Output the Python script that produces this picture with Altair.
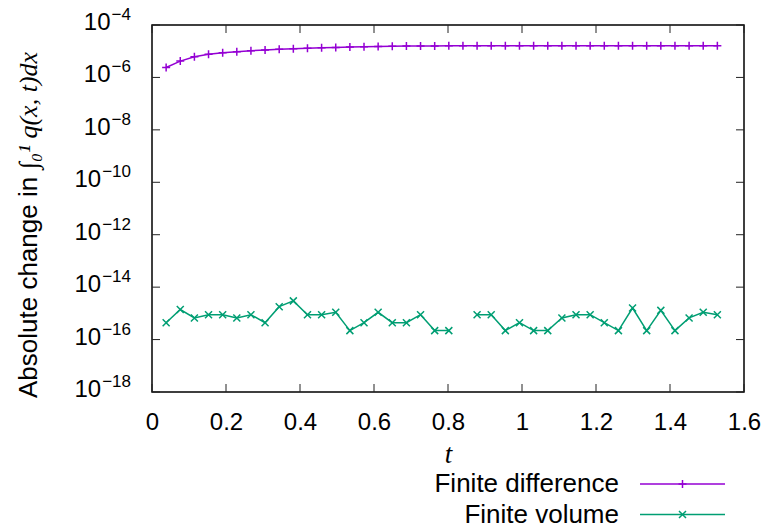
import altair as alt
import pandas as pd

# sample times shared by both schemes
t_values = [0.0382, 0.0764, 0.1146, 0.1528, 0.1910, 0.2292, 0.2674, 0.3056, 0.3438, 0.3820,
            0.4202, 0.4584, 0.4966, 0.5348, 0.5730, 0.6112, 0.6494, 0.6876, 0.7258, 0.7640,
            0.8022, 0.8404, 0.8786, 0.9168, 0.9550, 0.9932, 1.0314, 1.0696, 1.1078, 1.1460,
            1.1842, 1.2224, 1.2606, 1.2988, 1.3370, 1.3752, 1.4134, 1.4516, 1.4898, 1.5280]

# absolute change of the integral of q, finite difference scheme
fd_change = [2.4e-6, 4.2e-6, 6.1e-6, 7.6e-6, 8.7e-6, 9.5e-6, 1.04e-5, 1.11e-5, 1.18e-5, 1.24e-5,
             1.30e-5, 1.35e-5, 1.40e-5, 1.44e-5, 1.48e-5, 1.52e-5, 1.55e-5, 1.57e-5, 1.58e-5, 1.59e-5,
             1.60e-5, 1.60e-5, 1.61e-5, 1.61e-5, 1.61e-5, 1.61e-5, 1.62e-5, 1.62e-5, 1.62e-5, 1.62e-5,
             1.62e-5, 1.62e-5, 1.62e-5, 1.62e-5, 1.62e-5, 1.62e-5, 1.62e-5, 1.62e-5, 1.62e-5, 1.62e-5]

# same quantity, finite volume scheme (None: exactly zero, not shown on a log axis)
fv_change = [4.4e-16, 1.4e-15, 6.7e-16, 8.9e-16, 8.9e-16, 6.7e-16, 8.9e-16, 4.4e-16, 1.8e-15, 3.0e-15,
             8.9e-16, 8.9e-16, 1.1e-15, 2.2e-16, 4.4e-16, 1.1e-15, 4.4e-16, 4.4e-16, 8.9e-16, 2.2e-16,
             2.2e-16, None, 8.9e-16, 8.9e-16, 2.2e-16, 4.4e-16, 2.2e-16, 2.2e-16, 6.7e-16, 8.9e-16,
             8.9e-16, 4.4e-16, 2.2e-16, 1.6e-15, 2.2e-16, 1.3e-15, 2.2e-16, 6.7e-16, 1.1e-15, 8.9e-16]

x_ticks = [0, 0.2, 0.4, 0.6, 0.8, 1.0, 1.2, 1.4, 1.6]
y_exponents = [-4, -6, -8, -10, -12, -14, -16, -18]
series = ["Finite difference", "Finite volume"]
colors = ["#9400d3", "#009e73"]

W, H = 592, 367
FONT = "Liberation Sans"
MATH = "Liberation Serif"
PLUS = "M-1,0L1,0M0,-1L0,1"
CROSS = "M-1,-1L1,1M-1,1L1,-1"

fd = pd.DataFrame({"t": t_values, "v": fd_change})
fv = pd.DataFrame({"t": t_values, "v": fv_change})
fv["seg"] = fv["v"].isna().cumsum()
fv = fv.dropna()

x_scale = alt.Scale(domain=[0, 1.6], nice=False, zero=False)
y_scale = alt.Scale(type="log", domain=[1e-18, 1e-4], nice=False)

x_axis = alt.Axis(values=x_ticks, format="~g", ticks=False, domain=False, grid=False,
                  labelFont=FONT, labelFontSize=24, labelColor="black", labelPadding=18,
                  labelFlush=False, title="t", titleFont=MATH, titleFontStyle="italic",
                  titleFontSize=27, titleFontWeight="normal", titleColor="black",
                  titlePadding=7)

X = alt.X("t:Q", scale=x_scale, axis=x_axis)
Y = alt.Y("v:Q", scale=y_scale, axis=None)

fd_line = alt.Chart(fd).mark_line(color=colors[0], strokeWidth=1.5).encode(x=X, y=Y)
fd_pts = alt.Chart(fd).mark_point(shape=PLUS, size=64, filled=False, strokeWidth=1.5,
                                  color=colors[0], opacity=1).encode(x=X, y=Y)
fv_line = alt.Chart(fv).mark_line(color=colors[1], strokeWidth=1.5).encode(x=X, y=Y, detail="seg:N")
fv_pts = alt.Chart(fv).mark_point(shape=CROSS, size=49, filled=False, strokeWidth=1.5,
                                  color=colors[1], opacity=1).encode(x=X, y=Y)

# inward ticks on all four sides
ytick_src = alt.Chart(pd.DataFrame({"e": y_exponents})).transform_calculate(val="pow(10, datum.e)")
YT = alt.Y("val:Q", scale=y_scale, axis=None)
ytick_l = ytick_src.mark_rule(color="#222", strokeWidth=1).encode(y=YT, x=alt.value(0), x2=alt.value(8))
ytick_r = ytick_src.mark_rule(color="#222", strokeWidth=1).encode(y=YT, x=alt.value(W - 8), x2=alt.value(W))

xtick_src = alt.Chart(pd.DataFrame({"t": x_ticks}))
xtick_b = xtick_src.mark_rule(color="#222", strokeWidth=1).encode(x=X, y=alt.value(H - 8), y2=alt.value(H))
xtick_t = xtick_src.mark_rule(color="#222", strokeWidth=1).encode(x=X, y=alt.value(0), y2=alt.value(8))

# y tick labels: "10" with a raised exponent
ylab_src = ytick_src.transform_calculate(
    ex="'\u2212' + toString(abs(datum.e))",
    bx="-21 - 11 - 9.45 * length(toString(abs(datum.e)))",
)
ten = ylab_src.mark_text(align="right", baseline="middle", font=FONT, fontSize=24,
                         color="black", dy=-2).encode(
    x=alt.X("bx:Q", scale=None, axis=None), y=YT, text=alt.value("10"))
sup = ylab_src.mark_text(align="right", baseline="middle", font=FONT, fontSize=17,
                         color="black", dy=-10).encode(
    x=alt.value(-21), y=YT, text="ex:N")

# y title, plain part and math part
title_src = alt.Chart(pd.DataFrame({"s": ["Absolute change in", "\u222b\u2080\u00b9 q(x, t)dx"]}))
ytitle_a = title_src.transform_filter("datum.s == 'Absolute change in'").mark_text(
    align="left", baseline="alphabetic", angle=270, font=FONT, fontSize=26, color="black").encode(
    x=alt.value(-115), y=alt.value(373), text="s:N")
ytitle_b = title_src.transform_filter("datum.s != 'Absolute change in'").mark_text(
    align="left", baseline="alphabetic", angle=270, font=MATH, fontStyle="italic", fontSize=26,
    color="black").encode(
    x=alt.value(-115), y=alt.value(144), text="s:N")

# legend below the plot
leg_src = alt.Chart(pd.DataFrame({"s": series}))
legend = []
for name, col, shp, sz, ly in [(series[0], colors[0], PLUS, 64, 459),
                               (series[1], colors[1], CROSS, 49, 489.5)]:
    src = leg_src.transform_filter(alt.datum.s == name)
    legend.append(src.mark_text(align="right", baseline="alphabetic", font=FONT, fontSize=26,
                                color="black").encode(
        x=alt.value(467), y=alt.value(ly + 8), text="s:N"))
    legend.append(src.mark_rule(color=col, strokeWidth=1.5).encode(
        x=alt.value(488), x2=alt.value(573), y=alt.value(ly)))
    legend.append(src.mark_point(shape=shp, size=sz, filled=False, strokeWidth=1.5,
                                 color=col, opacity=1).encode(
        x=alt.value(530.5), y=alt.value(ly)))

chart = alt.layer(
    fd_line, fd_pts, fv_line, fv_pts,
    ytick_l, ytick_r, xtick_b, xtick_t,
    ten, sup, ytitle_a, ytitle_b, *legend,
).properties(
    width=W, height=H,
    padding={"left": 152, "top": 25, "right": 22, "bottom": 135},
    autosize=alt.AutoSizeParams(type="none"),
    background="white",
).configure_view(stroke="black", strokeWidth=1.5)

chart.save("out.html", embed_options={"renderer": "svg", "actions": False})
